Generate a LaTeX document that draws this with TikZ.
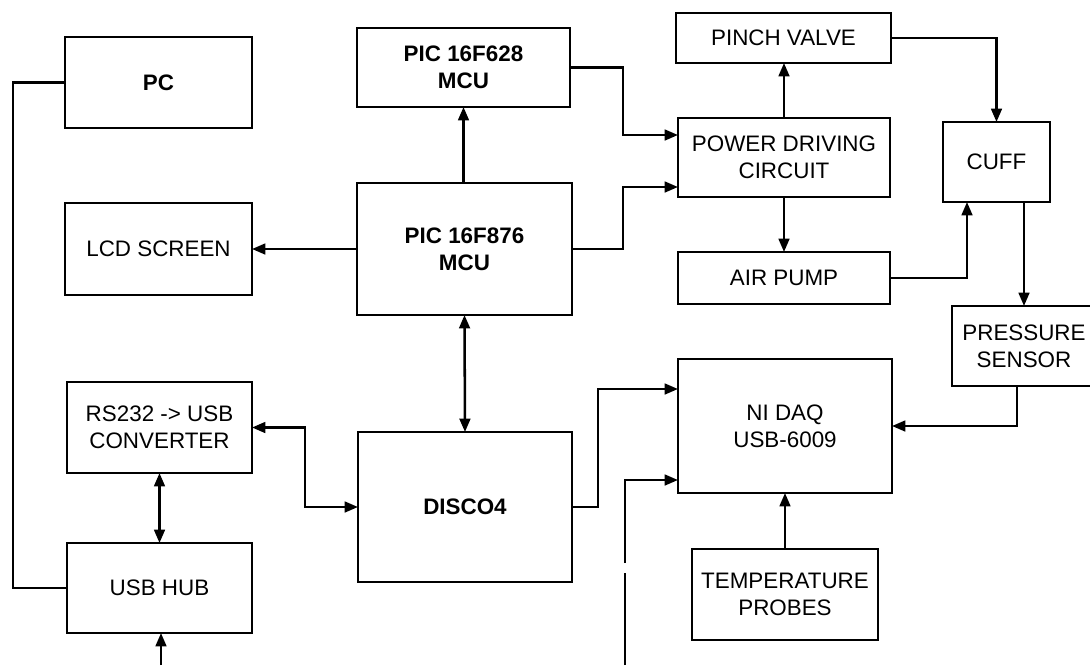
\documentclass[tikz,border=0pt]{standalone}
\usepackage{fontspec}
\setmainfont{Liberation Sans}
\usetikzlibrary{arrows.meta}
\begin{document}
\begin{tikzpicture}[x=0.75pt,y=-0.75pt,
  box/.style={draw,line width=2.2pt,fill=white,inner sep=0pt,outer sep=0pt,align=center,
    font=\fontsize{16.8}{20}\selectfont},
  bbox/.style={box,font=\fontsize{16.8}{20}\selectfont\bfseries},
  conn/.style={line width=1.9pt},
  arr/.style={conn,-{Triangle[length=10pt,width=8pt]}},
  darr/.style={conn,{Triangle[length=10pt,width=8pt]}-{Triangle[length=10pt,width=8pt]}}]
\useasboundingbox (0,0) rectangle (1090,665);
\fill[white] (0,0) rectangle (1090,665);
\clip (0,0) rectangle (1090,665);
% left column
\node[bbox,minimum width=140.25pt,minimum height=68.25pt] (pc) at (158.5,82.5) {PC};
\node[box,minimum width=140.25pt,minimum height=69pt] (lcd) at (158.5,249) {LCD SCREEN};
\node[box,minimum width=138.75pt,minimum height=68.25pt] (rs) at (159.5,427.5) {RS232 -> USB\\CONVERTER};
\node[box,minimum width=138.75pt,minimum height=67.5pt] (hub) at (159.5,588) {USB HUB};
% middle column
\node[bbox,minimum width=159.75pt,minimum height=59.25pt] (p628) at (463.5,67.5) {PIC 16F628\\MCU};
\node[bbox,minimum width=161.25pt,minimum height=99pt] (p876) at (464.5,249) {PIC 16F876\\MCU};
\node[bbox,minimum width=160.5pt,minimum height=112.5pt] (disco) at (465,507) {DISCO4};
% right-middle column
\node[box,minimum width=161.25pt,minimum height=37.5pt] (pinch) at (783.5,38) {PINCH VALVE};
\node[box,minimum width=159pt,minimum height=59.25pt] (power) at (784,157.5) {POWER DRIVING\\CIRCUIT};
\node[box,minimum width=159pt,minimum height=39pt] (pump) at (784,278) {AIR PUMP};
\node[box,minimum width=160.5pt,minimum height=100.5pt] (daq) at (785,426) {NI DAQ\\USB-6009};
\node[box,minimum width=139.5pt,minimum height=68.25pt] (temp) at (785,594.5) {TEMPERATURE\\PROBES};
% right column
\node[box,minimum width=80.25pt,minimum height=60pt] (cuff) at (996.5,162) {CUFF};
\node[box,minimum width=108pt,minimum height=60pt] (press) at (1024,346) {PRESSURE\\SENSOR};
% free ends
\coordinate (usbin) at (161,665);
\coordinate (daqin) at (625,665);
\coordinate (daqgapA) at (625,573);
\coordinate (daqgapB) at (625,563);
% connectors
\draw[conn] (pc.west) -- ++(-52,0) |- (hub.west);
\draw[arr] (p876.west) -- (lcd.east);
\draw[arr] (p876.north -| p628.south) -- (p628.south);
\draw[darr] (p876.south) -- (disco.north);
\draw[arr] (p628.east) -- ++(53,0) |- ([yshift=16.875pt]power.west);
\draw[arr] (p876.east) -- ++(51,0) |- ([yshift=-22.125pt]power.west);
\draw[arr] (power.north) -- (pinch.south -| power.north);
\draw[arr] (power.south) -- (pump.north);
\draw[arr] (pinch.east) -| (cuff.north);
\draw[arr] (pump.east) -| ([xshift=-22.125pt]cuff.south);
\draw[arr] (press.north |- cuff.south) -- (press.north);
\draw[arr] ([xshift=-5.25pt]press.south) |- (daq.east);
\draw[arr] (temp.north) -- (daq.south);
\draw[arr] (disco.east) -- ++(26,0) |- ([yshift=27.75pt]daq.west);
\draw[conn] (daqin) -- (daqgapA);
\draw[arr] (daqgapB) |- ([yshift=-40.5pt]daq.west);
\draw[darr] (rs.east) -- ++(53,0) |- (disco.west);
\draw[darr] (rs.south) -- (hub.north);
\draw[arr] (usbin) -- (usbin |- hub.south);
\end{tikzpicture}
\end{document}
